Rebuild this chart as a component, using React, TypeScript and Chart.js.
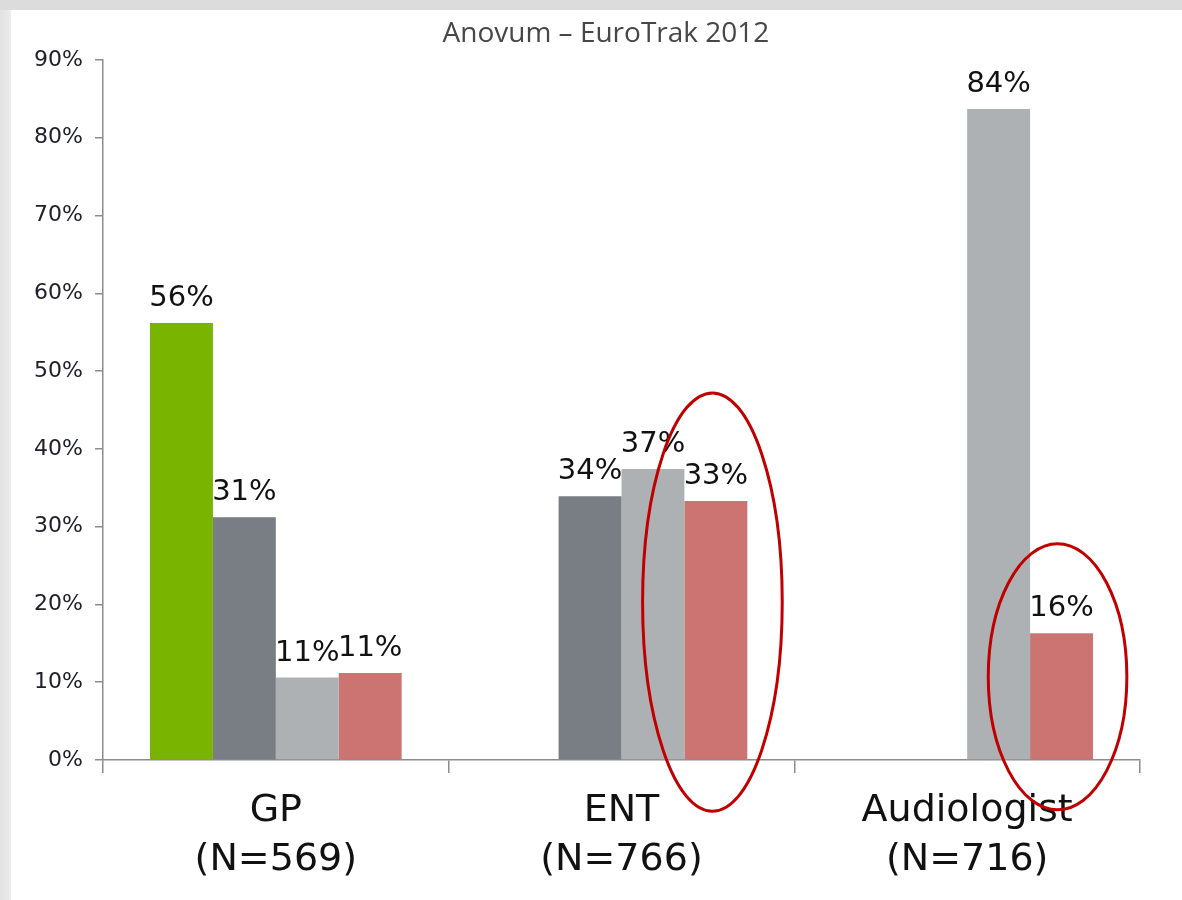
import React, { useEffect, useRef } from "react";
import { Chart, registerables } from "chart.js";

Chart.register(...registerables);

const categories: string[][] = [
  ["GP", "(N=569)"],
  ["ENT", "(N=766)"],
  ["Audiologist", "(N=716)"],
];
const seriesGreen: (number | null)[] = [56.2, null, null];
const seriesDark: (number | null)[] = [31.2, 33.9, null];
const seriesLight: (number | null)[] = [10.6, 37.4, 83.7];
const seriesRed: (number | null)[] = [11.2, 33.3, 16.3];
const yTicks: number[] = [0, 10, 20, 30, 40, 50, 60, 70, 80, 90];
const titleText = "Anovum – EuroTrak 2012";

// highlight ellipses: category index, horizontal span (fraction of category width from its centre), vertical span (values)
const ellipseCategory: number[] = [1, 2];
const ellipseLeft: number[] = [0.061, 0.061];
const ellipseRight: number[] = [0.465, 0.462];
const ellipseTop: number[] = [47.2, 27.8];
const ellipseBottom: number[] = [-6.6, -6.4];

const COLORS = ["#78b400", "#787e84", "#adb1b3", "#cc7472"];

const backgroundPlugin = {
  id: "bg",
  beforeDraw(chart: any) {
    const { ctx, width, height } = chart;
    ctx.save();
    ctx.fillStyle = "#ffffff";
    ctx.fillRect(0, 0, width, height);
    const g = ctx.createLinearGradient(0, 0, 12, 0);
    g.addColorStop(0, "#e2e2e2");
    g.addColorStop(1, "#ececec");
    ctx.fillStyle = g;
    ctx.fillRect(0, 0, 11, height);
    ctx.fillStyle = "#dcdcdc";
    ctx.fillRect(0, 0, width, 10);
    ctx.restore();
  },
};

const titlePlugin = {
  id: "chartTitleText",
  afterDraw(chart: any) {
    const { ctx, chartArea } = chart;
    ctx.save();
    ctx.font = "400 28px 'Open Sans', sans-serif";
    ctx.fillStyle = "#474747";
    ctx.textAlign = "center";
    ctx.textBaseline = "alphabetic";
    const cx = chartArea.left + (chartArea.right - chartArea.left) * 0.485;
    ctx.fillText(titleText, cx, chartArea.top - 18);
    ctx.restore();
  },
};

const valueLabelPlugin = {
  id: "valueLabels",
  afterDatasetsDraw(chart: any) {
    const { ctx } = chart;
    ctx.save();
    ctx.font = "29px 'DejaVu Sans', Verdana, sans-serif";
    ctx.fillStyle = "#111111";
    ctx.textAlign = "center";
    ctx.textBaseline = "alphabetic";
    chart.data.datasets.forEach((ds: any, di: number) => {
      const meta = chart.getDatasetMeta(di);
      meta.data.forEach((bar: any, i: number) => {
        const v = ds.data[i];
        if (v === null || v === undefined) return;
        ctx.fillText(Math.round(v) + "%", bar.x, bar.y - 17);
      });
    });
    ctx.restore();
  },
};

const ellipsePlugin = {
  id: "ellipses",
  afterDraw(chart: any) {
    const { ctx } = chart;
    const x = chart.scales.x;
    const y = chart.scales.y;
    const catW = (x.right - x.left) / categories.length;
    ctx.save();
    ctx.strokeStyle = "#c00000";
    ctx.lineWidth = 3;
    ellipseCategory.forEach((ci, k) => {
      const c = x.getPixelForValue(ci);
      const l = c + ellipseLeft[k] * catW;
      const r = c + ellipseRight[k] * catW;
      const t = y.getPixelForValue(ellipseTop[k]);
      const b = y.getPixelForValue(ellipseBottom[k]);
      ctx.beginPath();
      ctx.ellipse((l + r) / 2, (t + b) / 2, (r - l) / 2, (b - t) / 2, 0, 0, Math.PI * 2);
      ctx.stroke();
    });
    ctx.restore();
  },
};

export default function App() {
  const ref = useRef<HTMLCanvasElement | null>(null);
  useEffect(() => {
    if (!ref.current) return;
    const mk = (label: string, data: (number | null)[], color: string) => ({
      label,
      data,
      backgroundColor: color,
      borderWidth: 0,
      barPercentage: 1,
      categoryPercentage: 0.728,
    });
    const chart = new Chart(ref.current, {
      type: "bar",
      data: {
        labels: categories,
        datasets: [
          mk("s1", seriesGreen, COLORS[0]),
          mk("s2", seriesDark, COLORS[1]),
          mk("s3", seriesLight, COLORS[2]),
          mk("s4", seriesRed, COLORS[3]),
        ],
      },
      options: {
        responsive: false,
        animation: false,
        layout: { padding: { top: 60, left: 0, right: 42, bottom: 0 } },
        plugins: {
          legend: { display: false },
          tooltip: { enabled: false },
          title: { display: false },
        },
        scales: {
          x: {
            grid: {
              offset: true,
              drawOnChartArea: false,
              drawTicks: true,
              tickLength: 13,
              color: "#8c8c8c",
              lineWidth: 1.5,
            },
            border: { color: "#8c8c8c", width: 1.5 },
            ticks: {
              color: "#111111",
              padding: 13,
              font: { family: "'DejaVu Sans', Verdana, sans-serif", size: 38, lineHeight: 1.3 },
              maxRotation: 0,
              autoSkip: false,
            },
            afterFit(scale: any) {
              scale.height = 140;
            },
          },
          y: {
            min: 0,
            max: 90,
            afterBuildTicks(scale: any) {
              scale.ticks = yTicks.map((v) => ({ value: v }));
            },
            grid: {
              drawOnChartArea: false,
              drawTicks: true,
              tickLength: 8,
              color: "#8c8c8c",
              lineWidth: 1.5,
            },
            border: { color: "#8c8c8c", width: 1.5 },
            ticks: {
              color: "#20202c",
              padding: 12,
              font: { family: "'DejaVu Sans', Verdana, sans-serif", size: 22 },
              callback: (v: any) => v + "%",
            },
            afterFit(scale: any) {
              scale.width = 103;
            },
          },
        },
      },
      plugins: [backgroundPlugin, valueLabelPlugin, ellipsePlugin, titlePlugin],
    });
    return () => chart.destroy();
  }, []);
  return (
    <div style={{ position: "absolute", left: 0, top: 0, width: 1182, height: 900 }}>
      <canvas ref={ref} width={1182} height={900} style={{ display: "block" }} />
    </div>
  );
}
